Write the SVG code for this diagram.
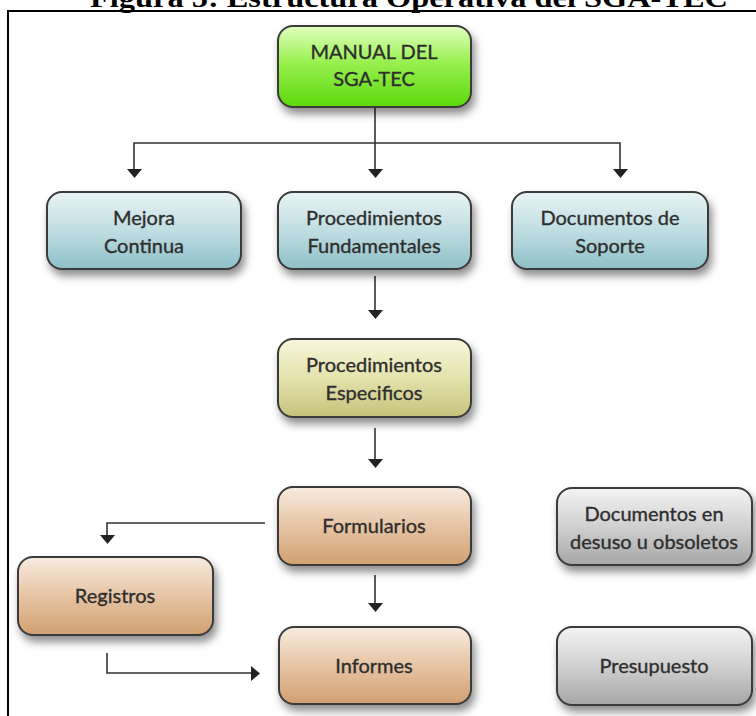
<svg xmlns="http://www.w3.org/2000/svg" width="756" height="716" viewBox="0 0 756 716">
<defs>
<style>
.box{stroke:#3a3a3a;stroke-width:2;filter:url(#sh)}
.lbl{font-family:Lato,"Open Sans","Liberation Sans",sans-serif;font-size:20px;fill:#2e2e2e;stroke:#2e2e2e;stroke-width:0.35;text-anchor:middle}
.ln{stroke:#333;stroke-width:1.6;fill:none}
.hd{fill:#222}
</style>
<filter id="sh" x="-20%" y="-20%" width="140%" height="150%">
<feDropShadow dx="3" dy="6" stdDeviation="4" flood-color="#000" flood-opacity="0.45"/>
</filter>
<linearGradient id="gGreen" x1="0" y1="0" x2="0" y2="1"><stop offset="0" stop-color="#e2ffc0"/><stop offset="0.45" stop-color="#98f050"/><stop offset="1" stop-color="#5cd80c"/></linearGradient>
<linearGradient id="gBlue" x1="0" y1="0" x2="0" y2="1"><stop offset="0" stop-color="#e8f4f5"/><stop offset="0.5" stop-color="#c0dde2"/><stop offset="1" stop-color="#8ebfc8"/></linearGradient>
<linearGradient id="gYel" x1="0" y1="0" x2="0" y2="1"><stop offset="0" stop-color="#f7f7dc"/><stop offset="0.5" stop-color="#e4e2ac"/><stop offset="1" stop-color="#c6c27c"/></linearGradient>
<linearGradient id="gTan" x1="0" y1="0" x2="0" y2="1"><stop offset="0" stop-color="#f8ece0"/><stop offset="0.5" stop-color="#e6c4a4"/><stop offset="1" stop-color="#d2a072"/></linearGradient>
<linearGradient id="gGray" x1="0" y1="0" x2="0" y2="1"><stop offset="0" stop-color="#f4f4f4"/><stop offset="0.5" stop-color="#d0d0d0"/><stop offset="1" stop-color="#a6a6a6"/></linearGradient>
</defs>
<rect width="756" height="716" fill="#fff"/>
<text x="409" y="7" font-family="'Liberation Serif',serif" font-weight="bold" font-size="28" textLength="638" lengthAdjust="spacingAndGlyphs" text-anchor="middle" fill="#000">Figura 5: Estructura Operativa del SGA-TEC</text>
<path d="M8 716 V11 H756" stroke="#000" stroke-width="2" fill="none"/>

<g id="connectors">
<path class="ln" d="M375 108 V170"/>
<path class="ln" d="M134 170 V143 H620 V170"/>
<path class="hd" d="M127 169 H142 L134.5 178 Z"/>
<path class="hd" d="M368 169 H383 L375.5 178 Z"/>
<path class="hd" d="M613 169 H628 L620.5 178 Z"/>
<path class="ln" d="M375 276 V311"/>
<path class="hd" d="M368 310 H383 L375.5 319 Z"/>
<path class="ln" d="M375 428 V460"/>
<path class="hd" d="M368 459 H383 L375.5 468 Z"/>
<path class="ln" d="M265 523 H107 V536"/>
<path class="hd" d="M100 535 H115 L107.5 544 Z"/>
<path class="ln" d="M375 575 V604"/>
<path class="hd" d="M368 603 H383 L375.5 612 Z"/>
<path class="ln" d="M107 653 V673 H252"/>
<path class="hd" d="M251 666 V681 L260 673.5 Z"/>
</g>

<g id="manual"><rect class="box" x="278" y="26" width="193" height="81" rx="15" fill="url(#gGreen)"/>
<text class="lbl" x="374" y="59">MANUAL DEL</text><text class="lbl" x="374" y="86">SGA-TEC</text></g>

<g id="mejora"><rect class="box" x="47" y="192" width="194" height="77" rx="15" fill="url(#gBlue)"/>
<text class="lbl" x="144" y="225">Mejora</text><text class="lbl" x="144" y="253">Continua</text></g>

<g id="fundamentales"><rect class="box" x="278" y="192" width="193" height="77" rx="15" fill="url(#gBlue)"/>
<text class="lbl" x="374" y="225">Procedimientos</text><text class="lbl" x="374" y="253">Fundamentales</text></g>

<g id="soporte"><rect class="box" x="512" y="192" width="196" height="77" rx="15" fill="url(#gBlue)"/>
<text class="lbl" x="610" y="225">Documentos de</text><text class="lbl" x="610" y="253">Soporte</text></g>

<g id="especificos"><rect class="box" x="278" y="339" width="193" height="78" rx="15" fill="url(#gYel)"/>
<text class="lbl" x="374" y="372">Procedimientos</text><text class="lbl" x="374" y="400">Especificos</text></g>

<g id="formularios"><rect class="box" x="278" y="487" width="193" height="78" rx="15" fill="url(#gTan)"/>
<text class="lbl" x="374" y="533">Formularios</text></g>

<g id="registros"><rect class="box" x="18" y="557" width="195" height="78" rx="15" fill="url(#gTan)"/>
<text class="lbl" x="115" y="603">Registros</text></g>

<g id="informes"><rect class="box" x="279" y="627" width="192" height="77" rx="15" fill="url(#gTan)"/>
<text class="lbl" x="374" y="673">Informes</text></g>

<g id="desuso"><rect class="box" x="557" y="488" width="195" height="77" rx="15" fill="url(#gGray)"/>
<text class="lbl" x="654" y="521">Documentos en</text><text class="lbl" x="654" y="549">desuso u obsoletos</text></g>

<g id="presupuesto"><rect class="box" x="557" y="627" width="195" height="78" rx="15" fill="url(#gGray)"/>
<text class="lbl" x="654" y="673">Presupuesto</text></g>
</svg>
